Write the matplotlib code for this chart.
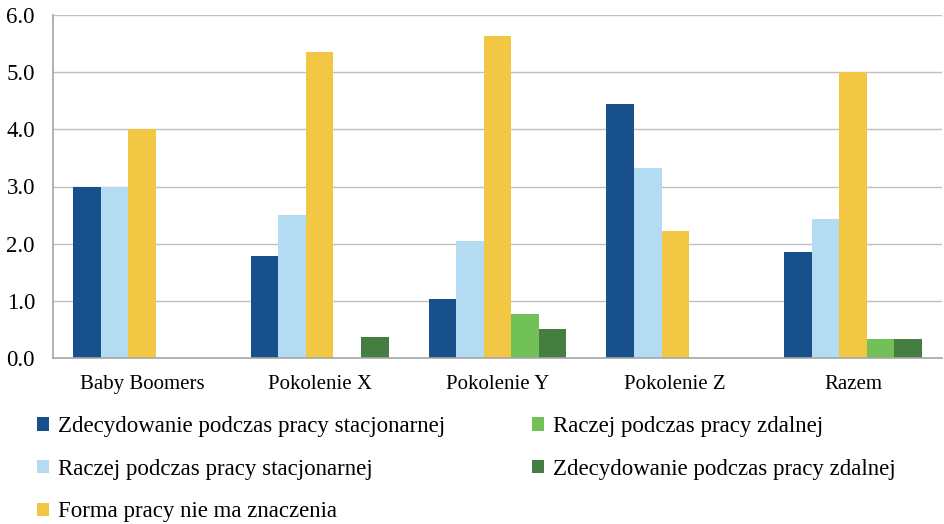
import matplotlib
matplotlib.use("Agg")
import matplotlib.pyplot as plt
import numpy as np

plt.rcParams['font.family'] = 'serif'
plt.rcParams['font.serif'] = ['Liberation Serif', 'Times New Roman', 'DejaVu Serif']

categories = ["Baby Boomers", "Pokolenie X", "Pokolenie Y", "Pokolenie Z", "Razem"]
series_names = [
    "Zdecydowanie podczas pracy stacjonarnej",
    "Raczej podczas pracy stacjonarnej",
    "Forma pracy nie ma znaczenia",
    "Raczej podczas pracy zdalnej",
    "Zdecydowanie podczas pracy zdalnej",
]
zdec_stac = [3.0, 1.78, 1.03, 4.44, 1.85]
raczej_stac = [3.0, 2.50, 2.05, 3.32, 2.43]
forma = [4.0, 5.35, 5.63, 2.22, 5.0]
raczej_zdal = [0.0, 0.0, 0.77, 0.0, 0.34]
zdec_zdal = [0.0, 0.36, 0.51, 0.0, 0.34]
series = [zdec_stac, raczej_stac, forma, raczej_zdal, zdec_zdal]
colors = ["#17508A", "#B3DBF2", "#F2C744", "#72C158", "#467E41"]
yticks = [0.0, 1.0, 2.0, 3.0, 4.0, 5.0, 6.0]

fig = plt.figure(figsize=(9.45, 5.24), dpi=100)
ax = fig.add_axes([53/945, 1-358/524, (942-53)/945, (358-15)/524])

x = np.arange(len(categories))
w = 0.155
handles = []
for i, (vals, c, name) in enumerate(zip(series, colors, series_names)):
    b = ax.bar(x + (i - 2) * w, vals, width=w, color=c, label=name, zorder=3)
    handles.append(b)

ax.set_xlim(-0.5, len(categories) - 0.5)
ax.set_ylim(0, 6)
ax.set_yticks(yticks)
ax.set_yticklabels([f"{t:.1f}" for t in yticks], fontsize=16.5)
ax.set_xticks(x)
ax.set_xticklabels(categories, fontsize=15)
ax.tick_params(axis='x', length=0, pad=12)
ax.tick_params(axis='y', length=0, pad=13)
ax.grid(axis='y', color='#BFBFBF', linewidth=1, zorder=0)
for s in ['top', 'right']:
    ax.spines[s].set_visible(False)
for s in ['left', 'bottom']:
    ax.spines[s].set_color('#A6A6A6')
    ax.spines[s].set_linewidth(1.2)
ax.spines['bottom'].set_zorder(4)

leg = fig.legend(handles, series_names, loc='upper left', bbox_to_anchor=(0.0175, 0.245),
                 ncol=2, frameon=False, prop={'family': 'serif', 'size': 16.5},
                 handlelength=0.52, handleheight=0.52,
                 handletextpad=0.38, labelspacing=0.94, columnspacing=3.8)
fig.savefig("out.png", dpi=100)
